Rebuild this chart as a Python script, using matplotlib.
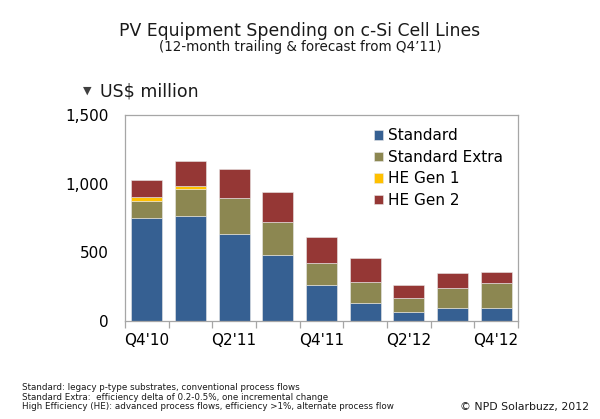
import matplotlib
matplotlib.use("Agg")
import matplotlib.pyplot as plt
import numpy as np

# --- Datos (US$ millones) ---
quarters = ["Q4'10", "Q1'11", "Q2'11", "Q3'11", "Q4'11", "Q1'12", "Q2'12", "Q3'12", "Q4'12"]
standard = [750, 765, 630, 478, 261, 128, 65, 97, 92]
standard_extra = [125, 195, 265, 245, 164, 157, 99, 142, 183]
he_gen1 = [30, 25, 0, 0, 0, 0, 0, 0, 0]
he_gen2 = [120, 180, 215, 217, 189, 174, 95, 112, 85]

series = [
    ("Standard", standard, "#366092"),
    ("Standard Extra", standard_extra, "#8C8751"),
    ("HE Gen 1", he_gen1, "#FFC000"),
    ("HE Gen 2", he_gen2, "#953735"),
]

fig = plt.figure(figsize=(6, 4.19), dpi=100)
ax = fig.add_axes([0.2083, 0.2339, 0.655, 0.4916])

x = np.arange(len(quarters))
bottom = np.zeros(len(quarters))
for name, vals, color in series:
    vals = np.array(vals, dtype=float)
    ax.bar(x, vals, width=0.71, bottom=bottom, color=color, label=name,
           edgecolor="#e8e8e8", linewidth=0.4)
    bottom += vals

ax.set_xlim(-0.5, len(quarters) - 0.5)
ax.set_ylim(0, 1500)

# Ejes y bordes
for sp in ax.spines.values():
    sp.set_color("#a6a6a6")
    sp.set_linewidth(0.9)

ax.set_yticks([0, 500, 1000, 1500])
ax.set_yticklabels(["0", "500", "1,000", "1,500"])
ax.tick_params(axis="y", length=0, pad=12, labelsize=11, colors="#000000")

ax.set_xticks(x[::2])
ax.set_xticklabels(quarters[::2])
ax.set_xticks(np.arange(-0.5, len(quarters)), minor=True)
ax.tick_params(axis="x", which="major", length=0, pad=9, labelsize=11)
ax.tick_params(axis="x", which="minor", length=5, width=0.9, color="#a6a6a6", direction="out")

# Leyenda
ax.legend(loc="upper left", bbox_to_anchor=(0.623, 0.694), bbox_transform=fig.transFigure,
          frameon=False, fontsize=11, handlelength=0.6, handleheight=0.6,
          handletextpad=0.3, labelspacing=0.43, borderpad=0, borderaxespad=0)

# Textos
fig.text(0.5, 0.927, "PV Equipment Spending on c-Si Cell Lines", ha="center", va="center",
         fontsize=12.4, color="#1a1a1a")
fig.text(0.5, 0.887, "(12-month trailing & forecast from Q4\u201911)", ha="center", va="center",
         fontsize=9.75, color="#1a1a1a")
fig.text(0.139, 0.783, "\u25bc", ha="left", va="center", fontsize=8, color="#404040")
fig.text(0.166, 0.781, "US$ million", ha="left", va="center", fontsize=12.5, color="#1a1a1a")

footnote = ("Standard: legacy p-type substrates, conventional process flows\n"
            "Standard Extra:  efficiency delta of 0.2-0.5%, one incremental change\n"
            "High Efficiency (HE): advanced process flows, efficiency >1%, alternate process flow")
fig.text(0.037, 0.0525, footnote, ha="left", va="center", fontsize=6.35, color="#1a1a1a",
         linespacing=1.08)
fig.text(0.982, 0.029, "\u00a9 NPD Solarbuzz, 2012", ha="right", va="center",
         fontsize=7.8, color="#1a1a1a")

fig.savefig("out.png", dpi=100)
